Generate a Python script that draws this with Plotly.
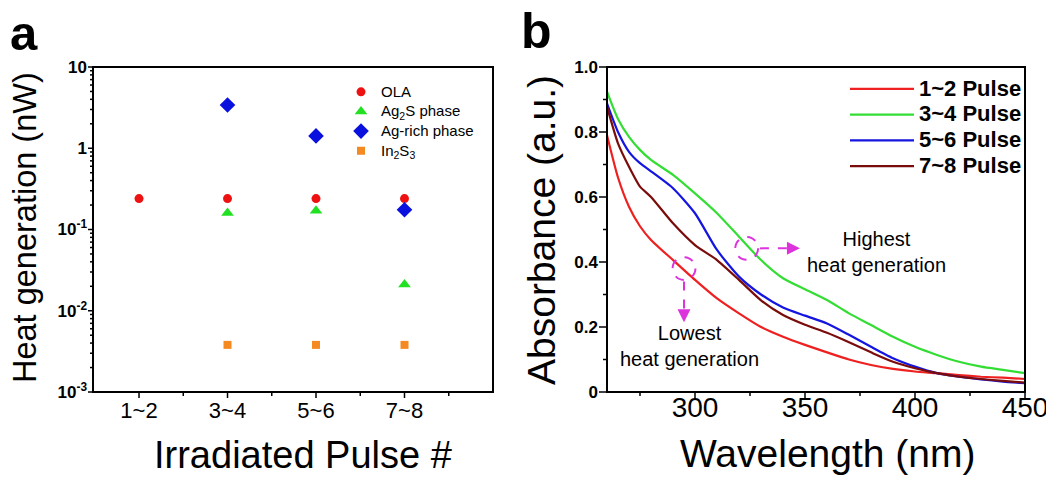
import math
import plotly.graph_objects as go

# ---------------- Panel a data ----------------
pulse_pos = [1, 2, 3, 4]
pulse_labels = ["1~2", "3~4", "5~6", "7~8"]
pulse_minor = [1.5, 2.5, 3.5, 4.5]
ola = [0.24, 0.24, 0.24, 0.24]
ag2s_pos = [2, 3, 4]
ag2s = [0.16, 0.17, 0.021]
agrich_pos = [2, 3, 4]
agrich = [3.4, 1.42, 0.175]
in2s3_pos = [2, 3, 4]
in2s3 = [0.0038, 0.0038, 0.0038]
logtick_vals = [0.001, 0.01, 0.1, 1, 10]
logtick_text = ["<b>10<sup>-3</sup></b>", "<b>10<sup>-2</sup></b>", "<b>10<sup>-1</sup></b>", "<b>1</b>", "<b>10</b>"]
log_minor = [m * 10.0 ** e for e in [-3, -2, -1, 0] for m in range(2, 10)]

# ---------------- Panel b data ----------------
wavelength = [260, 265, 270, 275, 280, 290, 300, 310, 320, 330, 340, 350, 360, 370, 380, 390, 400, 410, 420, 430, 440, 450]
pulse12 = [0.79, 0.66, 0.57, 0.51, 0.468, 0.406, 0.345, 0.288, 0.242, 0.20, 0.17, 0.145, 0.122, 0.10, 0.083, 0.071, 0.063, 0.058, 0.052, 0.047, 0.044, 0.04]
pulse34 = [0.924, 0.84, 0.785, 0.745, 0.714, 0.668, 0.611, 0.55, 0.478, 0.406, 0.35, 0.316, 0.283, 0.242, 0.206, 0.17, 0.139, 0.114, 0.093, 0.078, 0.068, 0.058]
pulse56 = [0.888, 0.80, 0.739, 0.704, 0.679, 0.627, 0.55, 0.437, 0.355, 0.30, 0.26, 0.235, 0.211, 0.176, 0.139, 0.104, 0.078, 0.058, 0.047, 0.039, 0.032, 0.027]
pulse78 = [0.878, 0.765, 0.693, 0.632, 0.60, 0.519, 0.452, 0.406, 0.345, 0.282, 0.237, 0.207, 0.182, 0.153, 0.122, 0.093, 0.073, 0.058, 0.047, 0.04, 0.034, 0.029]
abs_tick_vals = [0, 0.2, 0.4, 0.6, 0.8, 1.0]
abs_tick_text = ["<b>0</b>", "<b>0.2</b>", "<b>0.4</b>", "<b>0.6</b>", "<b>0.8</b>", "<b>1.0</b>"]
abs_minor = [0.1, 0.3, 0.5, 0.7, 0.9]
wl_tick_vals = [300, 350, 400, 450]
wl_minor = [275, 325, 375, 425]

FONT = "Liberation Sans, Arial, sans-serif"
MAG = "#dd33dd"

# page body has an 8px margin: figure is laid out so that screen positions match
W, H, OFF = 1046, 469, 8
def PX(x):
    return (x - OFF) / W
def PY(y):
    return 1 - (y - OFF) / H

# plot-area geometry in screen pixels
A_L, A_R, B_L, B_R, TOP, BOT = 93, 493, 607, 1025, 67, 392
XA_RANGE, XB_RANGE, YA_RANGE, YB_RANGE = [0.48, 5.0], [260, 450], [-3, 1], [0, 1.0]

def big(s, px):
    return "<span style='font-size:%spx'>%s</span>" % (px, s)

fig = go.Figure()

# Panel a traces
fig.add_trace(go.Scatter(x=pulse_pos, y=ola, mode="markers", name=big("OLA", 15),
                         marker=dict(symbol="circle", size=9, color="#ee1111"),
                         xaxis="x", yaxis="y", legend="legend", legendgroup="a1"))
fig.add_trace(go.Scatter(x=ag2s_pos, y=ag2s, mode="markers", name=big("Ag<sub>2</sub>S phase", 15),
                         marker=dict(symbol="triangle-up", size=11, color="#22e022"),
                         xaxis="x", yaxis="y", legend="legend", legendgroup="a2"))
fig.add_trace(go.Scatter(x=agrich_pos, y=agrich, mode="markers", name=big("Ag-rich phase", 15),
                         marker=dict(symbol="diamond", size=12, color="#0a10dd"),
                         xaxis="x", yaxis="y", legend="legend", legendgroup="a3"))
fig.add_trace(go.Scatter(x=in2s3_pos, y=in2s3, mode="markers", name=big("In<sub>2</sub>S<sub>3</sub>", 15),
                         marker=dict(symbol="square", size=8, color="#f58a22"),
                         xaxis="x", yaxis="y", legend="legend", legendgroup="a4"))

# Panel b traces
for name, ys, col, g in [("1~2 Pulse", pulse12, "#ee2020", "b1"),
                         ("3~4 Pulse", pulse34, "#33dd33", "b2"),
                         ("5~6 Pulse", pulse56, "#1515e0", "b3"),
                         ("7~8 Pulse", pulse78, "#7a0c0c", "b4")]:
    fig.add_trace(go.Scatter(x=wavelength, y=ys, mode="lines", name=big(name, 22),
                             line=dict(color=col, width=2.2, shape="spline", smoothing=0.6),
                             xaxis="x2", yaxis="y2", legend="legend2", legendgroup=g))

# ---- axis frames and tick marks (screen-pixel geometry computed from the tick arrays) ----
def lin_map(v, rng, p0, p1):
    return p0 + (v - rng[0]) / (rng[1] - rng[0]) * (p1 - p0)

frame_x, frame_y = [], []
def seg(x0, y0, x1, y1):
    frame_x.extend([x0 - OFF, x1 - OFF, None])
    frame_y.extend([y0 - OFF, y1 - OFF, None])

for l, r in [(A_L, A_R), (B_L, B_R)]:
    seg(l, BOT, r, BOT); seg(r, BOT, r, TOP); seg(r, TOP, l, TOP); seg(l, TOP, l, BOT)

tick_x, tick_y = [], []
def tseg(x0, y0, x1, y1):
    tick_x.extend([x0 - OFF, x1 - OFF, None])
    tick_y.extend([y0 - OFF, y1 - OFF, None])

def xticks(vals, rng, l, r, length):
    for v in vals:
        xp = lin_map(v, rng, l, r)
        tseg(xp, BOT, xp, BOT + length)

def yticks(vals, rng, l, length, log=False):
    for v in vals:
        t = math.log10(v) if log else v
        yp = lin_map(t, rng, BOT, TOP)
        tseg(l, yp, l - length, yp)

xticks(pulse_pos, XA_RANGE, A_L, A_R, 6)
xticks(pulse_minor, XA_RANGE, A_L, A_R, 4)
yticks(logtick_vals, YA_RANGE, A_L, 5, log=True)
yticks(log_minor, YA_RANGE, A_L, 3, log=True)
xticks(wl_tick_vals, XB_RANGE, B_L, B_R, 7)
xticks(wl_minor, XB_RANGE, B_L, B_R, 4)
yticks(abs_tick_vals, YB_RANGE, B_L, 8)
yticks(abs_minor, YB_RANGE, B_L, 4)

fig.add_trace(go.Scatter(x=frame_x, y=frame_y, mode="lines", line=dict(color="black", width=2),
                         xaxis="x3", yaxis="y3", showlegend=False, hoverinfo="skip"))
fig.add_trace(go.Scatter(x=tick_x, y=tick_y, mode="lines", line=dict(color="black", width=1.5),
                         xaxis="x3", yaxis="y3", showlegend=False, hoverinfo="skip"))

ydom = [PY(BOT), PY(TOP)]

# the library's own axis lines / tick marks are switched off; frames and ticks come from the trace above
common = dict(showline=False, showgrid=False, zeroline=False, automargin=False, ticks="")

fig.update_layout(
    template="none",
    width=W, height=H,
    margin=dict(l=0, r=0, t=0, b=0, autoexpand=False),
    paper_bgcolor="white", plot_bgcolor="rgba(0,0,0,0)",
    font=dict(family=FONT, color="black"),
    showlegend=True,
    xaxis=dict(domain=[PX(A_L), PX(A_R)], range=XA_RANGE, anchor="y",
               tickmode="array", tickvals=pulse_pos, ticktext=pulse_labels,
               tickfont=dict(size=22), ticklabelstandoff=3, **common),
    yaxis=dict(domain=ydom, type="log", range=YA_RANGE, anchor="x",
               tickmode="array", tickvals=logtick_vals, ticktext=logtick_text,
               tickfont=dict(size=17), ticklabelstandoff=5, **common),
    xaxis2=dict(domain=[PX(B_L), PX(B_R)], range=XB_RANGE, anchor="y2",
                tickmode="array", tickvals=wl_tick_vals,
                tickfont=dict(size=28), ticklabelstandoff=-4, **common),
    yaxis2=dict(domain=ydom, range=YB_RANGE, anchor="x2",
                tickmode="array", tickvals=abs_tick_vals, ticktext=abs_tick_text,
                tickfont=dict(size=17), ticklabelstandoff=8, **common),
    xaxis3=dict(domain=[0, 1], range=[0, W], anchor="y3", visible=False, fixedrange=True),
    yaxis3=dict(domain=[0, 1], range=[H, 0], anchor="x3", visible=False, fixedrange=True),
    legend=dict(x=PX(341), y=PY(77), xanchor="left", yanchor="top",
                font=dict(size=12.8), bgcolor="rgba(0,0,0,0)", tracegroupgap=0,
                traceorder="grouped", itemwidth=30),
    legend2=dict(x=PX(845), y=PY(71), xanchor="left", yanchor="top",
                 font=dict(size=17.5, weight="bold"), bgcolor="rgba(0,0,0,0)", tracegroupgap=0,
                 traceorder="grouped", itemwidth=64),
)

annotations = [
    dict(text="<b>a</b>", x=PX(24), y=PY(33), xref="paper", yref="paper",
         showarrow=False, font=dict(size=49), xanchor="center", yanchor="middle"),
    dict(text="<b>b</b>", x=PX(536), y=PY(31), xref="paper", yref="paper",
         showarrow=False, font=dict(size=50), xanchor="center", yanchor="middle"),
    dict(text="Heat generation (nW)", x=PX(25), y=PY(228), xref="paper", yref="paper",
         showarrow=False, font=dict(size=32.5), textangle=-90, xanchor="center", yanchor="middle"),
    dict(text="Absorbance (a.u.)", x=PX(542), y=PY(230), xref="paper", yref="paper",
         showarrow=False, font=dict(size=39), textangle=-90, xanchor="center", yanchor="middle"),
    dict(text="Irradiated Pulse #", x=PX(303), y=PY(455), xref="paper", yref="paper",
         showarrow=False, font=dict(size=38), xanchor="center", yanchor="middle"),
    dict(text="Wavelength (nm)", x=PX(828), y=PY(453), xref="paper", yref="paper",
         showarrow=False, font=dict(size=39), xanchor="center", yanchor="middle"),
    dict(text="Highest<br>heat generation", x=382.5, y=0.432, xref="x2", yref="y2",
         showarrow=False, font=dict(size=20), xanchor="center", yanchor="middle", align="center"),
    dict(text="Lowest<br>heat generation", x=297.5, y=0.1415, xref="x2", yref="y2",
         showarrow=False, font=dict(size=20), xanchor="center", yanchor="middle", align="center"),
    # arrow heads
    dict(x=347.7, y=0.442, ax=-10, ay=0, xref="x2", yref="y2", text="", showarrow=True,
         arrowhead=2, arrowsize=1.3, arrowwidth=2, arrowcolor=MAG),
    dict(x=295, y=0.215, ax=0, ay=-10, xref="x2", yref="y2", text="", showarrow=True,
         arrowhead=2, arrowsize=1.3, arrowwidth=2, arrowcolor=MAG),
]
fig.update_layout(annotations=annotations)

shapes = [
    dict(type="circle", xref="x2", yref="y2", x0=318.3, x1=328.7, y0=0.407, y1=0.477,
         line=dict(color=MAG, width=2, dash="dash")),
    dict(type="circle", xref="x2", yref="y2", x0=289.8, x1=300.2, y0=0.345, y1=0.415,
         line=dict(color=MAG, width=2, dash="dash")),
    dict(type="line", xref="x2", yref="y2", x0=329.5, x1=343.2, y0=0.442, y1=0.442,
         line=dict(color=MAG, width=2, dash="dash")),
    dict(type="line", xref="x2", yref="y2", x0=295, x1=295, y0=0.34, y1=0.24,
         line=dict(color=MAG, width=2, dash="dash")),
]
for l, r in [(A_L, A_R), (B_L, B_R)]:
    shapes.append(dict(type="rect", xref="paper", yref="paper",
                       x0=PX(l), x1=PX(r), y0=PY(BOT), y1=PY(TOP),
                       line=dict(color="black", width=2), fillcolor="rgba(0,0,0,0)", layer="above"))
fig.update_layout(shapes=shapes)

fig.write_html("out.html", config={"staticPlot": True})
